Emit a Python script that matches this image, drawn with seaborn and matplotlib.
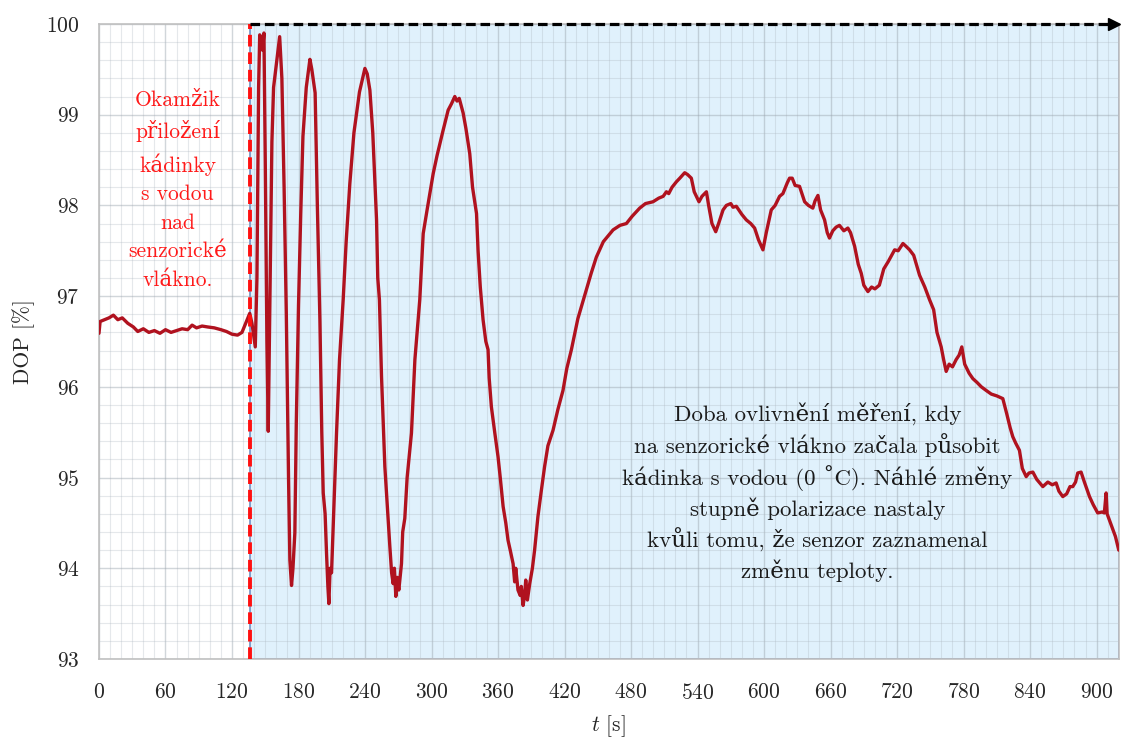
import numpy as np
import pandas as pd
import seaborn as sns
import matplotlib.pyplot as plt
from matplotlib.ticker import MultipleLocator

# časová osa [s] a DOP [%]
t_s = [0, 1, 5, 9, 13, 17, 21, 26, 31, 35, 40, 45, 50, 55, 60, 65, 70, 75, 80, 84,
       88, 93, 98, 104, 110, 115, 120, 125, 129, 133, 136, 138, 141, 142.5, 144, 145,
       146.5, 147.6, 148.8, 150, 151.5, 152.7, 154, 156, 157.5, 160, 163, 165, 167, 169,
       171, 172.2, 173.7, 175, 176.7, 178, 180, 182, 184, 187, 190.3, 192, 195, 197, 199.3,
       201, 202.3, 204, 205.3, 206.5, 207.4, 208.5, 209.8, 211.3, 214.3, 217, 220.3, 223,
       226.3, 230, 235, 239.9, 242, 244.4, 247, 250.4, 251.5, 253, 254.9, 257.9, 260, 262.4,
       264, 265.4, 266.5, 267.8, 269, 270.5, 272.9, 274, 275.9, 278, 281.9, 285, 289.4,
       292.5, 296, 301.5, 305, 310.5, 315, 318, 321, 323, 325, 328.5, 331, 334.5, 337,
       340.6, 342, 344, 346.5, 349, 351, 352, 354, 357, 360, 362, 364.6, 367, 369, 371,
       373.6, 375, 376, 378, 380, 381, 382.6, 384, 385, 386.5, 388.6, 391, 393, 396, 399,
       402, 405, 409.6, 414, 418.6, 422, 426.2, 432, 439.7, 444, 448.7, 455, 463.8, 470,
       475.8, 481, 487.8, 493, 499.8, 505, 509, 511.9, 514, 517, 520.9, 524, 528.4, 531,
       534.4, 537, 541.3, 544, 548, 550, 553, 556.4, 559, 563, 566, 570, 572, 575, 580,
       584, 588, 591.5, 595, 599, 602, 606.5, 610, 614, 617, 621, 623, 625.4, 628, 632,
       636.6, 640, 644, 646, 648.6, 651, 654.6, 657, 659, 662, 665, 668, 672, 675.6, 678,
       681.7, 685, 687.7, 690, 693.7, 697, 700, 704, 708, 712, 717.8, 721, 725.3, 728,
       731.3, 735, 740.3, 745, 749.3, 753, 756, 759.8, 762, 764.3, 767, 770, 773.3, 776,
       778.4, 781, 785, 788.4, 792, 796, 800.4, 805, 810, 815.4, 819, 822, 824.4, 827,
       830.4, 833, 836.5, 839, 842.5, 846, 851.5, 856, 860, 863.5, 866, 869.5, 873, 876,
       878.5, 881, 883, 886, 889, 893.6, 897, 901, 905, 907, 908.6, 909.5, 911.6, 914,
       917, 920]
dop = [96.59, 96.72, 96.74, 96.76, 96.79, 96.74, 96.76, 96.70, 96.66, 96.61, 96.64, 96.60,
       96.62, 96.59, 96.63, 96.60, 96.62, 96.64, 96.63, 96.68, 96.65, 96.67, 96.66, 96.65,
       96.63, 96.61, 96.58, 96.57, 96.60, 96.72, 96.81, 96.70, 96.44, 97.2, 99.3, 99.88,
       99.85, 99.71, 99.9, 98.5, 96.5, 95.51, 96.8, 98.7, 99.3, 99.55, 99.86, 99.4, 98.2,
       96.8, 95.0, 94.09, 93.81, 94.0, 94.39, 95.6, 96.9, 97.9, 98.76, 99.3, 99.61, 99.5,
       99.24, 98.0, 96.74, 95.5, 94.83, 94.6, 94.16, 93.8, 93.61, 94.0, 93.95, 94.46, 95.49,
       96.3, 96.96, 97.6, 98.24, 98.8, 99.25, 99.51, 99.45, 99.27, 98.8, 97.84, 97.2, 96.96,
       96.11, 95.12, 94.7, 94.24, 93.95, 93.83, 94.0, 93.69, 93.9, 93.76, 94.05, 94.4, 94.55,
       95.0, 95.49, 96.3, 96.96, 97.69, 97.95, 98.35, 98.55, 98.83, 99.05, 99.12, 99.2,
       99.15, 99.18, 99.02, 98.85, 98.57, 98.2, 97.91, 97.5, 97.1, 96.74, 96.5, 96.41, 96.1,
       95.78, 95.5, 95.23, 95.0, 94.68, 94.5, 94.31, 94.2, 94.05, 93.85, 94.0, 93.76, 93.7,
       93.8, 93.59, 93.7, 93.87, 93.65, 93.83, 94.0, 94.2, 94.57, 94.85, 95.12, 95.35,
       95.52, 95.75, 95.96, 96.2, 96.41, 96.75, 97.07, 97.25, 97.43, 97.6, 97.73, 97.78,
       97.8, 97.88, 97.97, 98.02, 98.04, 98.08, 98.1, 98.15, 98.13, 98.2, 98.26, 98.3,
       98.36, 98.34, 98.30, 98.15, 98.04, 98.1, 98.15, 98.0, 97.8, 97.71, 97.8, 97.95, 98.0,
       98.02, 97.98, 97.99, 97.9, 97.84, 97.8, 97.75, 97.62, 97.51, 97.7, 97.95, 98.0, 98.1,
       98.13, 98.25, 98.3, 98.30, 98.22, 98.21, 98.04, 98.0, 97.97, 98.05, 98.11, 97.95,
       97.84, 97.7, 97.64, 97.72, 97.76, 97.78, 97.72, 97.75, 97.7, 97.55, 97.35, 97.25,
       97.12, 97.05, 97.1, 97.08, 97.12, 97.3, 97.38, 97.51, 97.5, 97.58, 97.55, 97.51,
       97.45, 97.23, 97.1, 96.96, 96.85, 96.6, 96.44, 96.3, 96.17, 96.25, 96.22, 96.30,
       96.35, 96.44, 96.25, 96.15, 96.09, 96.05, 96.0, 95.96, 95.92, 95.9, 95.87, 95.7,
       95.55, 95.45, 95.38, 95.30, 95.1, 95.01, 95.05, 95.06, 94.98, 94.9, 94.95, 94.92,
       94.94, 94.85, 94.79, 94.82, 94.9, 94.9, 94.95, 95.05, 95.06, 94.95, 94.79, 94.7,
       94.61, 94.62, 94.61, 94.83, 94.6, 94.53, 94.45, 94.35, 94.2]

t_event = 136      # okamžik přiložení kádinky
t_max = 920
y_min, y_max = 93, 100
x_ticks = list(range(0, 901, 60))
y_ticks = list(range(93, 101))

text_left = "Okamžik\npřiložení\nkádinky\ns vodou\nnad\nsenzorické\nvlákno."
# U+02DA místo ° (cmr10 má na pozici ° jiný znak)
text_right = ("Doba ovlivnění měření, kdy\nna senzorické vlákno začala působit\n"
              "kádinka s vodou (0 \u02daC). Náhlé změny\nstupně polarizace nastaly\n"
              "kvůli tomu, že senzor zaznamenal\nzměnu teploty.")

sns.set_style("white")
plt.rcParams['font.family'] = ['cmr10', 'DejaVu Serif']
plt.rcParams['mathtext.fontset'] = 'cm'
plt.rcParams['axes.formatter.use_mathtext'] = True

df = pd.DataFrame({"t": t_s, "DOP": dop})

fig = plt.figure(figsize=(11.21, 7.42), dpi=100)
ax = fig.add_axes([0.0883, 0.1119, 0.9097, 0.8558])

# zvýrazněná oblast
ax.axvspan(t_event, t_max, facecolor="#e0f1fc", edgecolor="#6f8fc4", lw=1.2, zorder=0)

sns.lineplot(data=df, x="t", y="DOP", ax=ax, color="#b0121f", lw=2.4, zorder=3)

ax.axvline(t_event, color="#ff1010", lw=2.8, ls=(0, (3, 1.5)), zorder=4)
ax.plot([t_event, t_max - 6], [y_max, y_max], color="black", lw=2.3,
        ls=(0, (3, 1.5)), zorder=5, clip_on=False)
ax.plot([t_max - 4], [y_max], marker=">", color="black", ms=8, zorder=6, clip_on=False)

ax.set_xlim(0, t_max)
ax.set_ylim(y_min, y_max)
ax.set_xticks(x_ticks)
ax.set_yticks(y_ticks)
ax.xaxis.set_minor_locator(MultipleLocator(10))
ax.yaxis.set_minor_locator(MultipleLocator(0.2))
ax.grid(which="major", color="#9aa4ad", alpha=0.45, lw=1.0, zorder=1)
ax.grid(which="minor", color="#aab4bd", alpha=0.3, lw=0.8, zorder=1)
ax.set_axisbelow(True)
ax.tick_params(which="both", length=0, labelsize=15.5)
ax.tick_params(axis="x", pad=17)
ax.tick_params(axis="y", pad=14)
for s in ax.spines.values():
    s.set_color("#c0c0c0")
    s.set_linewidth(1.2)

ax.set_xlabel(r"$t$ [s]", fontsize=15.5, labelpad=8)
ax.set_ylabel("DOP [%]", fontsize=15.5, labelpad=8)

ax.text(71, 98.17, text_left, color="#ff1a1a", fontsize=15.5, ha="center", va="center",
        linespacing=1.58, zorder=6)
ax.text(648, 94.84, text_right, color="#1a1a1a", fontsize=16.5, ha="center", va="center",
        linespacing=1.38, zorder=6)

fig.savefig("out.png", dpi=100)
